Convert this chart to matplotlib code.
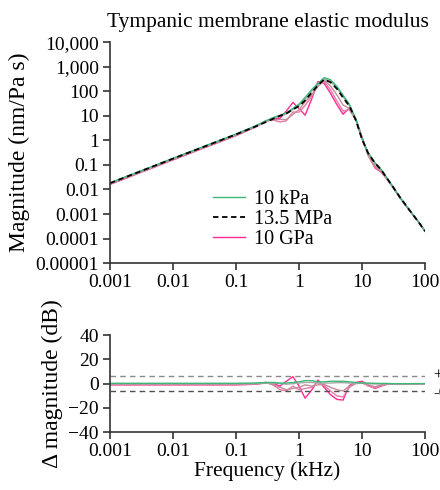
import numpy as np
import matplotlib
matplotlib.use("Agg")
import matplotlib.pyplot as plt

plt.rcParams['font.family'] = ['Liberation Serif', 'DejaVu Serif']
plt.rcParams['font.size'] = 14

# frequency points (kHz)
freq = [0.001, 0.01, 0.1, 0.2, 0.3, 0.4, 0.5, 0.63, 0.8, 1.0, 1.25, 1.6, 2.0, 2.5,
        3.15, 4.0, 5.0, 6.3, 8.0, 10, 12.5, 16, 20, 25, 31.5, 40, 50, 63, 80, 100]

# magnitude of the 13.5 MPa (baseline) model, nm/Pa s
mag_base = [0.018, 0.18, 1.75, 3.6, 5.6, 7.8, 10, 12.5, 18, 25, 42, 90, 175, 300,
            235, 125, 55, 25, 6.5, 1.1, 0.3, 0.12, 0.065, 0.028, 0.012, 0.0048,
            0.0022, 0.001, 0.00045, 0.0002]

# change in magnitude relative to baseline (dB)
d_10kpa = [0.3, 0.3, 0.3, 0.5, 1.0, 1.0, 0.5, 0.5, 1.0, 1.5, 2.5, 2.5, 1.5, 1.5, 2.0,
           2.0, 2.0, 1.5, 1.0, 0.5, 0.5, 0.3, 0.2, 0.2, 0, 0, 0, 0, 0, 0]
d_1mpa = [0, 0, 0, 0.2, 0.5, 0.3, 0, -0.5, 0, 0.5, 1.0, 1.0, 0.5, 0.5, 0.5, 0.8, 0.8,
          0.5, 0.3, 0.3, 0, -0.3, -0.2, 0, 0, 0, 0, 0, 0, 0]
d_100mpa = [-0.5, -0.5, -0.5, 0, 0.8, -1, -3, -5, -4, -3, -1, -2, -1, -0.5, -3, -5,
            -6, -2, 0, 0.5, -1, -2.5, -1, -0.5, -0.3, -0.3, -0.2, 0, 0, 0]
d_1gpa = [-0.8, -0.8, -0.8, -0.3, 1.2, -1.5, -5, -6, -2, -5, -4, -3, 1.5, -1.5, -6,
          -10, -11, -3, 0.5, 1.0, -2, -3.5, -1.5, -0.5, -0.3, -0.3, -0.2, 0, 0, 0]
d_10gpa = [-1, -1, -1, -0.5, 0.5, 0, -2, 2, 5.8, -2, -12, -5, 3, -3, -9, -13, -13.5,
           -1.5, 1.0, 2.0, -1, -4, -2, -0.5, -0.5, -0.3, -0.2, 0, 0, 0]

ytick_vals = [1e4, 1e3, 1e2, 10, 1, 0.1, 0.01, 0.001, 0.0001, 0.00001]
ytick_labels = ['10,000', '1,000', '100', '10', '1', '0.1', '0.01', '0.001',
                '0.0001', '0.00001']
xtick_vals = [0.001, 0.01, 0.1, 1, 10, 100]
xtick_labels = ['0.001', '0.01', '0.1', '1', '10', '100']

series = [
    (d_10gpa, '#ff2a93', '10 GPa'),
    (d_1gpa, '#e87aa8', None),
    (d_100mpa, '#c48c98', None),
    (d_1mpa, '#a8a8a8', None),
    (d_10kpa, '#3cb878', '10 kPa'),
]

f = np.array(freq)
base = np.array(mag_base)

fig = plt.figure(figsize=(4.4, 4.9), dpi=100)
ax1 = fig.add_axes([0.25, 0.463, 0.716, 0.451])
ax2 = fig.add_axes([0.25, 0.118, 0.716, 0.198])

handles = {}
for d, c, lab in series:
    m = base * 10 ** (np.array(d) / 20.0)
    l, = ax1.plot(f, m, color=c, lw=1.0)
    ax2.plot(f, d, color=c, lw=1.0)
    if lab:
        handles[lab] = l
l, = ax1.plot(f, base, color='black', lw=1.3, ls=(0, (3, 2)))
handles['13.5 MPa'] = l

ax1.set_xscale('log')
ax1.set_yscale('log')
ax1.set_xlim(0.001, 100)
ax1.set_ylim(0.00001, 10000)
ax1.set_yticks(ytick_vals)
ax1.set_yticklabels(ytick_labels)
ax1.set_xticks(xtick_vals)
ax1.set_xticklabels(xtick_labels)
ax1.minorticks_off()
ax1.set_ylabel('Magnitude (nm/Pa s)', fontsize=17, labelpad=4)
ax1.set_title('Tympanic membrane elastic modulus', fontsize=15.5, pad=11)

ax1.legend([handles['10 kPa'], handles['13.5 MPa'], handles['10 GPa']],
           ['10 kPa', '13.5 MPa', '10 GPa'], loc='upper left',
           bbox_to_anchor=(0.3, 0.367), frameon=False, handlelength=1.6,
           handletextpad=0.45, labelspacing=0.05, borderaxespad=0, fontsize=14.5)

# +/- 6 dB reference lines
ax2.axhline(6, color='#8a8a8a', lw=1.0, ls=(0, (4, 3)))
ax2.axhline(-6, color='#505050', lw=1.0, ls=(0, (4, 3)))
ax2.text(1.025, 7, '+6', transform=ax2.get_yaxis_transform(), va='center',
         ha='left', fontsize=12, clip_on=False)
ax2.text(1.025, -8, '-6', transform=ax2.get_yaxis_transform(), va='center',
         ha='left', fontsize=12, clip_on=False)

ax2.set_xscale('log')
ax2.set_xlim(0.001, 100)
ax2.set_ylim(-40, 40)
ax2.set_yticks([-40, -20, 0, 20, 40])
ax2.set_xticks(xtick_vals)
ax2.set_xticklabels(xtick_labels)
ax2.minorticks_off()
ax2.set_ylabel('\u0394 magnitude (dB)', fontsize=17, labelpad=4)
ax2.set_xlabel('Frequency (kHz)', fontsize=15.5, labelpad=1)

for ax in (ax1, ax2):
    for s in ('top', 'right'):
        ax.spines[s].set_visible(False)
    for s in ('left', 'bottom'):
        ax.spines[s].set_color('#333333')
        ax.spines[s].set_linewidth(1.2)
    ax.tick_params(direction='out', length=5, width=1.2, color='#333333',
                   labelsize=14, pad=3)

fig.savefig('out.png', dpi=100)
